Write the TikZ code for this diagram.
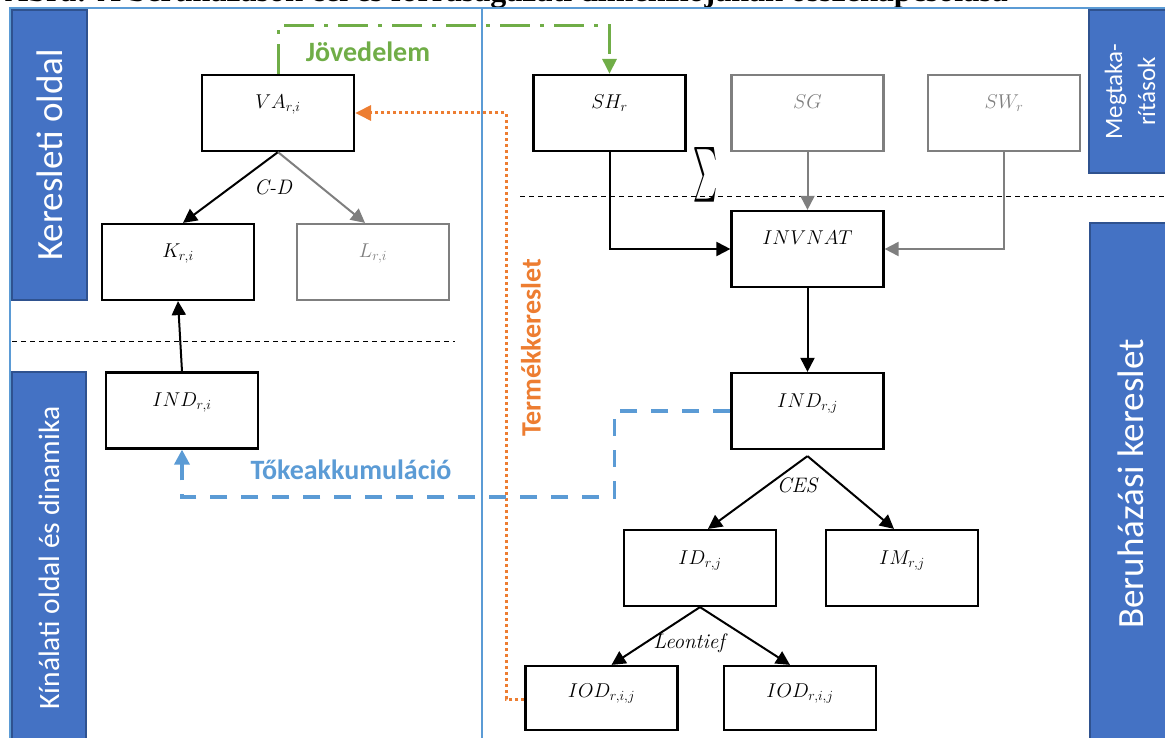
\documentclass[tikz,border=0pt]{standalone}
\usepackage{fix-cm}
\usepackage{graphicx}
\usepackage{fontspec}
\newfontfamily\calib{Carlito}
\newfontfamily\titlefont{Liberation Serif}
\usetikzlibrary{arrows.meta}
\definecolor{bandfill}{HTML}{4472C4}
\definecolor{bandedge}{HTML}{2F528F}
\definecolor{frameblue}{HTML}{5B9BD5}
\definecolor{grn}{HTML}{70AD47}
\definecolor{org}{HTML}{ED7D31}
\definecolor{gry}{HTML}{7F7F7F}
\tikzset{
  box/.style={draw, line width=2.2pt, minimum width=152pt, minimum height=76pt,
    inner sep=0pt, text height=34pt, text depth=42pt,
    font=\fontsize{20}{24}\selectfont},
  graybox/.style={box, draw=gry, text=gry},
  band/.style={fill=bandfill, draw=bandedge, line width=1.2pt, text=white,
    rotate=90, inner sep=0pt, align=center},
  sep/.style={black, line width=0.9pt, dash pattern=on 5pt off 4pt},
  arr/.style={line width=2pt, -{Triangle[length=14pt,width=14pt]}},
  grayarr/.style={arr, gry},
  grnline/.style={grn, line width=3pt, dash pattern=on 30pt off 10pt on 4pt off 10pt,
    -{Triangle[length=15pt,width=14pt]}},
  orgline/.style={org, line width=3pt, dash pattern=on 3pt off 3pt,
    -{Triangle[length=16pt,width=15pt]}},
  blueline/.style={frameblue, line width=3.5pt, dash pattern=on 17pt off 14pt,
    -{Triangle[length=15pt,width=15pt]}},
  lbl/.style={inner sep=0pt, font=\calib\bfseries\fontsize{28}{32}\selectfont},
  fork/.style={inner sep=0pt, font=\fontsize{21}{24}\selectfont\itshape}
}
\begin{document}
\begin{tikzpicture}[x=1pt,y=-1pt]
\useasboundingbox (0,0) rectangle (1165,738);
\clip (0,0) rectangle (1165,738);
% title (cut off at the top)
\node[anchor=base west, inner sep=0pt, font=\titlefont\bfseries\fontsize{32}{36}\selectfont] (title) at (5,1.5)
  {Ábra: A beruházások cél és forrásagazati dimenziójának összekapcsolása};
% frame
\draw[frameblue, line width=1.8pt] (10,745) -- (10,8) -- (1170,8);
\draw[frameblue, line width=1.8pt] (482,8) -- (482,745);
% bands
\node[band, minimum width=290pt, minimum height=75pt, font=\calib\fontsize{37}{40}\selectfont]
  (b1) at (49.5,155) {Keresleti oldal};
\node[band, minimum width=372pt, minimum height=74pt, font=\calib\fontsize{29.5}{32}\selectfont]
  (b2) at (49,558) {Kínálati oldal és dinamika};
\node[band, minimum width=163pt, minimum height=82pt, font=\calib\fontsize{25}{33}\selectfont]
  (b3) at (1130,91.5) {Megtaka-\\rítások};
\node[band, minimum width=522pt, minimum height=82pt, font=\calib\fontsize{37}{40}\selectfont]
  (b4) at (1131,484) {Beruházási kereslet};
% separators
\draw[sep] (12,341) -- (455,341);
\draw[sep] (520,196) -- (1170,196);
% boxes
\node[box] (VA) at (278,113) {$VA_{r,i}$};
\node[box] (K) at (178,262) {$K_{r,i}$};
\node[graybox] (L) at (373,262) {$L_{r,i}$};
\node[box] (INDi) at (182,410.5) {$IND_{r,i}$};
\node[box] (SH) at (609.5,113) {$SH_r$};
\node[graybox] (SG) at (807.5,113) {$SG$};
\node[graybox] (SW) at (1004,113) {$SW_r$};
\node[box] (INV) at (807.5,249) {$INVNAT$};
\node[box] (INDj) at (807.5,411) {$IND_{r,j}$};
\node[box] (ID) at (700,568) {$ID_{r,j}$};
\node[box] (IM) at (902,568) {$IM_{r,j}$};
\node[box, minimum height=64pt, text height=31pt, text depth=33pt] (IOD1) at (601.5,698) {$IOD_{r,i,j}$};
\node[box, minimum height=64pt, text height=31pt, text depth=33pt] (IOD2) at (800,698) {$IOD_{r,i,j}$};
% sigma
\node[inner sep=0pt] (sig) at (705.5,175) {\resizebox{24pt}{41pt}{$\sum$}};
% C-D fork
\draw[arr] (VA.south) -- ([xshift=5pt]K.north);
\draw[grayarr] (VA.south) -- ([xshift=-8pt]L.north);
\node[fork] (cd) at (273,187) {C-D};
\draw[arr] (INDi.north) -- (K.south);
% savings to INVNAT
\draw[arr] (SH.south) |- (INV.west);
\draw[grayarr] (SG.south) -- (INV.north);
\draw[grayarr] (SW.south) |- (INV.east);
\draw[arr] (INV.south) -- (INDj.north);
% CES fork
\coordinate (ces) at ([yshift=-6pt]INDj.south);
\draw[arr] (ces) -- ([xshift=8pt]ID.north);
\draw[arr] (ces) -- ([xshift=-8pt]IM.north);
\node[fork] (cesl) at (797,485) {CES};
% Leontief fork
\draw[arr] (ID.south) -- ([xshift=10pt]IOD1.north);
\draw[arr] (ID.south) -- ([xshift=-10pt]IOD2.north);
\node[fork] (leo) at (689,643) {Leontief};
% income
\draw[grnline] (VA.north) -- ++(0,-48) -| (SH.north);
\node[lbl, text=grn] (jov) at (368,52) {Jövedelem};
% product demand
\draw[orgline] ([yshift=-1pt]IOD1.west) -- ++(-18,0) |- (VA.east);
\node[lbl, text=org, rotate=90] (term) at (531,348) {Termékkereslet};
% capital accumulation
\draw[blueline] (INDj.west) -- ++(-116,0) -- ++(0,86) -| (INDi.south);
\node[lbl, text=frameblue] (toke) at (351,470) {Tőkeakkumuláció};
\end{tikzpicture}
\end{document}
